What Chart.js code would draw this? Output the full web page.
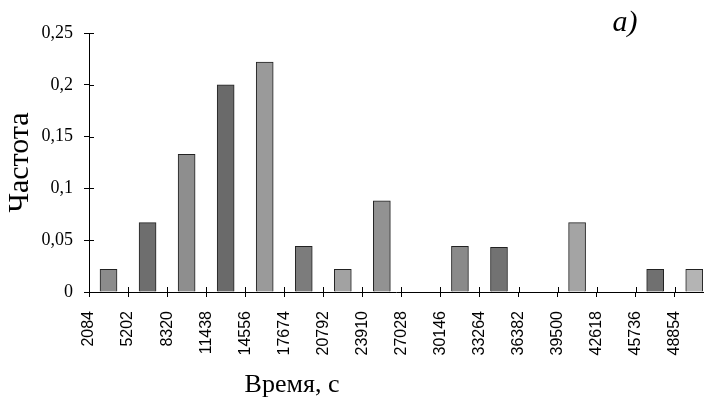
<!DOCTYPE html>
<html>
<head>
<meta charset="utf-8">
<script src="https://cdn.jsdelivr.net/npm/chart.js@4/dist/chart.umd.min.js"></script>
<style>
  body { margin: 0; background: #fff; }
  #wrap { width: 708px; height: 398px; }
</style>
</head>
<body>
<div id="wrap"><canvas id="myChart" width="708" height="398"></canvas></div>
<script>
// left edges of the bins (tick labels on the time axis)
var binStarts = [2084, 5202, 8320, 11438, 14556, 17674, 20792, 23910,
  27028, 30146, 33264, 36382, 39500, 42618, 45736, 48854];
// frequency of each bin
var freq = [0.022, 0.067, 0.133, 0.2, 0.222, 0.044, 0.022, 0.088,
  0, 0.044, 0.043, 0, 0.067, 0, 0.022, 0.022];
var yTicks = [0, 0.05, 0.1, 0.15, 0.2, 0.25];
var xTitle = "Время, с";
var yTitle = "Частота";
var panelLabel = "a)";

var binWidth = binStarts[1] - binStarts[0];
var points = [];
for (var i = 0; i < binStarts.length; i++) {
  points.push({ x: binStarts[i] + binWidth / 2, y: freq[i] });
}

var barColors = ["#8c8c8c", "#6e6e6e", "#8e8e8e", "#6a6a6a", "#9a9a9a", "#7c7c7c",
  "#a2a2a2", "#929292", "#888", "#8a8a8a", "#727272", "#888", "#a4a4a4", "#888",
  "#707070", "#b4b4b4"];

var extras = {
  id: "extras",
  afterDraw: function (chart) {
    var ctx = chart.ctx;
    var xs = chart.scales.x, ys = chart.scales.y;
    var area = chart.chartArea;
    ctx.save();
    ctx.strokeStyle = "#000";
    ctx.lineWidth = 1;
    // inner halves of the tick marks (ticks cross the axes)
    ctx.beginPath();
    ys.ticks.forEach(function (t, k) {
      var py = Math.round(ys.getPixelForTick(k)) + 0.5;
      ctx.moveTo(area.left, py);
      ctx.lineTo(area.left + 5, py);
    });
    xs.ticks.forEach(function (t, k) {
      var px = Math.round(xs.getPixelForTick(k)) + 0.5;
      ctx.moveTo(px, area.bottom);
      ctx.lineTo(px, area.bottom - 5);
    });
    ctx.stroke();
    ctx.fillStyle = "#000";
    ctx.textBaseline = "alphabetic";
    ctx.textAlign = "center";
    ctx.font = "26px 'Liberation Serif', serif";
    ctx.fillText(xTitle, 292, 392);
    ctx.font = "italic 30px 'Liberation Serif', serif";
    ctx.fillText(panelLabel, 625, 31);
    ctx.restore();
  }
};

new Chart("myChart", {
  type: "bar",
  data: {
    datasets: [
      {
        data: points,
        backgroundColor: barColors,
        borderColor: "#222",
        borderWidth: 1,
        barThickness: 17
      }
    ]
  },
  options: {
    responsive: false,
    animation: false,
    layout: { padding: { top: 33, right: 2, left: 0, bottom: 0 } },
    plugins: {
      legend: { display: false },
      tooltip: { enabled: false }
    },
    scales: {
      x: {
        type: "linear",
        offset: false,
        min: binStarts[0],
        max: 51160,
        afterBuildTicks: function (scale) {
          scale.ticks = binStarts.map(function (v) { return { value: v }; });
        },
        afterFit: function (scale) { scale.height = 106; },
        ticks: {
          minRotation: 90,
          maxRotation: 90,
          autoSkip: false,
          padding: 14,
          color: "#000",
          font: { family: "'Liberation Sans', Arial, sans-serif", size: 16 },
          callback: function (v) { return String(v); }
        },
        grid: { offset: false, drawOnChartArea: false, drawTicks: true, tickLength: 5, color: "#000" },
        border: { display: true, color: "#000", width: 1 }
      },
      y: {
        min: 0,
        max: 0.25,
        afterBuildTicks: function (scale) {
          scale.ticks = yTicks.map(function (v) { return { value: v }; });
        },
        afterFit: function (scale) { scale.width = 89; },
        ticks: {
          padding: 11,
          color: "#000",
          font: { family: "'Liberation Serif', 'Times New Roman', serif", size: 18 },
          callback: function (v) { return String(Number(v.toFixed(2))).replace(".", ","); }
        },
        grid: { drawOnChartArea: false, drawTicks: true, tickLength: 5, color: "#000" },
        border: { display: true, color: "#000", width: 1 },
        title: {
          display: true,
          text: yTitle,
          color: "#000",
          font: { family: "'Liberation Serif', 'Times New Roman', serif", size: 30 },
          padding: { top: 2, bottom: 0 }
        }
      }
    }
  },
  plugins: [extras]
});
</script>
</body>
</html>
